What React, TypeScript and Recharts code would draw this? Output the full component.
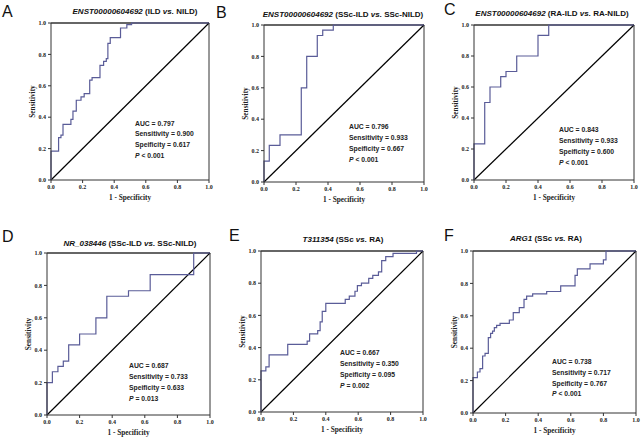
import { LineChart, Line, XAxis, YAxis, ReferenceLine, Label } from 'recharts';

// ROC corner points (1 - specificity, sensitivity)
const aFpr = [0, 0, 0.048, 0.063, 0.076, 0.126, 0.139, 0.16, 0.19, 0.21, 0.245, 0.26, 0.31, 0.333, 0.35, 0.36, 0.375, 0.44, 0.48, 0.51, 1];
const aTpr = [0, 0.184, 0.27, 0.286, 0.354, 0.386, 0.439, 0.508, 0.53, 0.55, 0.636, 0.652, 0.73, 0.756, 0.773, 0.87, 0.907, 0.968, 0.99, 1, 1];

const bFpr = [0, 0, 0.033, 0.1, 0.233, 0.267, 0.333, 0.367, 0.433, 1];
const bTpr = [0, 0.133, 0.233, 0.3, 0.6, 0.8, 0.933, 0.967, 1, 1];

const cFpr = [0, 0, 0.067, 0.1, 0.167, 0.2, 0.267, 0.4, 0.467, 1];
const cTpr = [0, 0.233, 0.5, 0.6, 0.667, 0.7, 0.8, 0.933, 1, 1];

const dFpr = [0, 0, 0.033, 0.067, 0.1, 0.133, 0.2, 0.3, 0.367, 0.5, 0.633, 0.9, 1];
const dTpr = [0, 0.2, 0.267, 0.3, 0.333, 0.433, 0.5, 0.6, 0.733, 0.767, 0.867, 1, 1];

const eFpr = [0, 0, 0.03, 0.05, 0.165, 0.285, 0.3, 0.35, 0.365, 0.378, 0.4, 0.52, 0.545, 0.58, 0.595, 0.62, 0.665, 0.69, 0.725, 0.745, 0.77, 0.815, 0.96, 1];
const eTpr = [0, 0.255, 0.28, 0.355, 0.42, 0.44, 0.485, 0.505, 0.56, 0.625, 0.675, 0.7, 0.72, 0.75, 0.785, 0.8, 0.83, 0.848, 0.87, 0.94, 0.965, 0.985, 1, 1];

const fFpr = [0, 0, 0.027, 0.043, 0.059, 0.074, 0.094, 0.108, 0.12, 0.131, 0.145, 0.166, 0.223, 0.247, 0.284, 0.313, 0.329, 0.366, 0.452, 0.538, 0.626, 0.64, 0.718, 0.8, 0.816, 1];
const fTpr = [0, 0.218, 0.253, 0.274, 0.352, 0.368, 0.465, 0.492, 0.506, 0.527, 0.541, 0.553, 0.574, 0.619, 0.65, 0.702, 0.722, 0.735, 0.75, 0.785, 0.85, 0.89, 0.92, 0.945, 1, 1];

const FPR = [aFpr, bFpr, cFpr, dFpr, eFpr, fFpr];
const TPR = [aTpr, bTpr, cTpr, dTpr, eTpr, fTpr];

const TICKS = [0, 0.2, 0.4, 0.6, 0.8, 1];
const LETTERS = ['A', 'B', 'C', 'D', 'E', 'F'];
const GENES = ['ENST00000604692', 'ENST00000604692', 'ENST00000604692', 'NR_038446', 'T311354', 'ARG1'];
const GROUP_1 = ['ILD', 'SSc-ILD', 'RA-ILD', 'SSc-ILD', 'SSc', 'SSc'];
const GROUP_2 = ['NILD', 'SSc-NILD', 'RA-NILD', 'SSc-NILD', 'RA', 'RA'];
const AUC = ['0.797', '0.796', '0.843', '0.687', '0.667', '0.738'];
const SENS = ['0.900', '0.933', '0.933', '0.733', '0.350', '0.717'];
const SPEC = ['0.617', '0.667', '0.600', '0.633', '0.095', '0.767'];
const P_VALUES = ['< 0.001', '< 0.001', '< 0.001', '= 0.013', '= 0.002', '< 0.001'];

// plot boxes on the page
const BOXES = [
  { x0: 51, x1: 209, y0: 23, y1: 180 },
  { x0: 264, x1: 424, y0: 25, y1: 182 },
  { x0: 474, x1: 634, y0: 25, y1: 180 },
  { x0: 47, x1: 210, y0: 253, y1: 415 },
  { x0: 261, x1: 423, y0: 251, y1: 412 },
  { x0: 473, x1: 636, y0: 251, y1: 413 },
];
const LETTER_POS = [[2, 17], [216, 18], [444, 15], [2, 242], [229, 241], [444, 241]];
const TITLE_POS = [[135, 14], [343, 17], [552, 16], [130, 246], [343, 242], [546, 241]];
const NOTE_POS = [[135, 125.5, 10.7], [349, 129, 11.1], [559, 131.5, 11], [129, 368, 10.9], [340, 354.7, 11], [552, 364, 10.8]];

const SANS = 'Liberation Sans, Arial, sans-serif';
const SERIF = 'Liberation Serif, Times New Roman, serif';
const CURVE = '#5a5c98';
const AXIS = '#333';

const tickStyle = { fontSize: 6, fontFamily: SERIF, fontWeight: 700, fill: '#222' };

function XLabel(props: any) {
  const vb = props.viewBox;
  return (
    <text x={vb.x + vb.width / 2} y={vb.y + 17.5} textAnchor="middle" dominantBaseline="central"
      fontFamily={SERIF} fontWeight={700} fontSize={7.3} fill="#222">1 - Specificity</text>
  );
}

function YLabel(props: any) {
  const vb = props.viewBox;
  const cx = vb.x + 11;
  const cy = vb.y + vb.height / 2;
  return (
    <text x={cx} y={cy} transform={`rotate(-90 ${cx} ${cy})`} textAnchor="middle" dominantBaseline="central"
      fontFamily={SERIF} fontWeight={700} fontSize={7.3} fill="#222">Sensitivity</text>
  );
}

function RocPanel({ i }: { i: number }) {
  const b = BOXES[i];
  const data = FPR[i].map((f, k) => ({ fpr: f, tpr: TPR[i][k] }));
  const w = b.x1 - b.x0 + 36;
  const h = b.y1 - b.y0 + 29;
  return (
    <div style={{ position: 'absolute', left: b.x0 - 30, top: b.y0 - 5 }}>
      <LineChart width={w} height={h} data={data} margin={{ top: 5, right: 6, left: 0, bottom: 0 }}>
        <XAxis type="number" dataKey="fpr" domain={[0, 1]} ticks={TICKS} height={24}
          tickFormatter={(v: number) => v.toFixed(1)} stroke={AXIS} tickSize={3} tick={tickStyle}>
          <Label content={XLabel} />
        </XAxis>
        <YAxis type="number" domain={[0, 1]} ticks={TICKS} width={30}
          tickFormatter={(v: number) => v.toFixed(1)} stroke={AXIS} tickSize={3} tick={tickStyle}>
          <Label content={YLabel} />
        </YAxis>
        <ReferenceLine x={1} stroke={AXIS} />
        <ReferenceLine y={1} stroke={AXIS} strokeWidth={1.4} />
        <ReferenceLine segment={[{ x: 0, y: 0 }, { x: 1, y: 1 }]} stroke="#000" strokeWidth={1.2} />
        <Line type="stepAfter" dataKey="tpr" stroke={CURVE} strokeWidth={1.2} dot={false} isAnimationActive={false} />
      </LineChart>
    </div>
  );
}

export default function App() {
  return (
    <div style={{ position: 'absolute', left: 0, top: 0, width: 642, height: 440, background: '#fff' }}>
      {LETTERS.map((_, i) => <RocPanel key={i} i={i} />)}
      <svg width={642} height={440} style={{ position: 'absolute', left: 0, top: 0, pointerEvents: 'none' }}>
        {LETTERS.map((l, i) => (
          <text key={'l' + i} x={LETTER_POS[i][0]} y={LETTER_POS[i][1]} fontFamily={SANS} fontSize={16} fill="#111">{l}</text>
        ))}
        {GENES.map((g, i) => (
          <text key={'t' + i} x={TITLE_POS[i][0]} y={TITLE_POS[i][1]} textAnchor="middle"
            fontFamily={SANS} fontWeight={700} fontSize={8} fill="#111">
            <tspan fontStyle="italic">{g}</tspan>
            <tspan>{` (${GROUP_1[i]} `}</tspan>
            <tspan fontStyle="italic">vs.</tspan>
            <tspan>{` ${GROUP_2[i]})`}</tspan>
          </text>
        ))}
        {AUC.map((a, i) => {
          const [x, y, s] = NOTE_POS[i];
          return (
            <g key={'n' + i} fontFamily={SANS} fontWeight={700} fontSize={6.8} fill="#222">
              <text x={x} y={y}>{`AUC = ${a}`}</text>
              <text x={x} y={y + s}>{`Sensitivity = ${SENS[i]}`}</text>
              <text x={x} y={y + 2 * s}>{`Speificity = ${SPEC[i]}`}</text>
              <text x={x} y={y + 3 * s}><tspan fontStyle="italic">P</tspan>{` ${P_VALUES[i]}`}</text>
            </g>
          );
        })}
      </svg>
    </div>
  );
}
